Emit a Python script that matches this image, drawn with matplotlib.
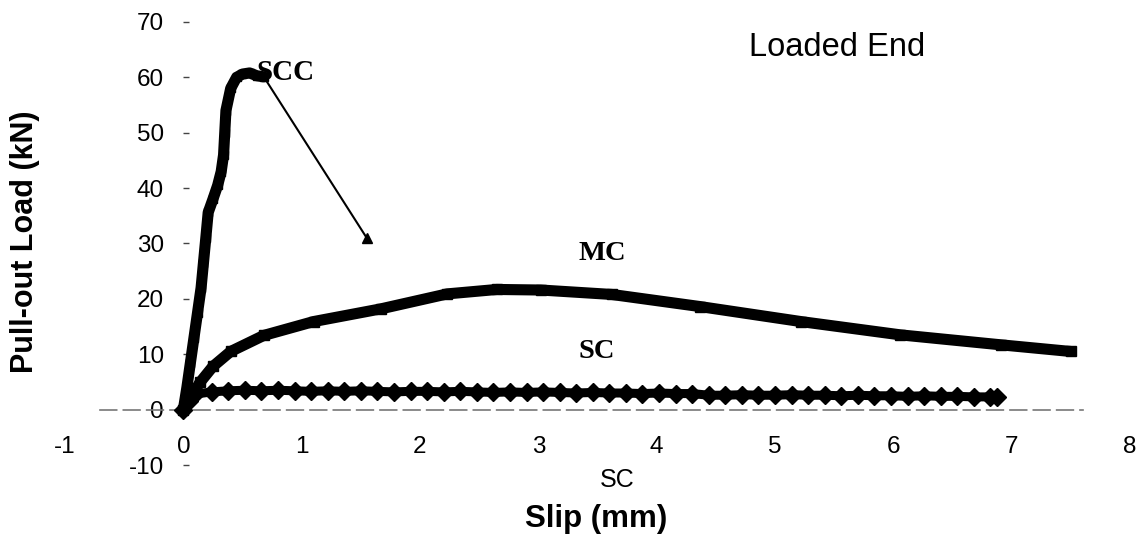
#!/usr/bin/env python3
"""Pull-out load vs slip at the loaded end (SCC, MC, SC bars)."""

import matplotlib
matplotlib.use("Agg")
import matplotlib.pyplot as plt

# SCC: steep rise, peak near 60 kN, then one straight drop to the last point
SCC_X = [0.00, 0.03, 0.06, 0.09, 0.12, 0.15, 0.17, 0.19, 0.21, 0.25, 0.29,
         0.32, 0.34, 0.35, 0.36, 0.40, 0.45, 0.50, 0.56, 0.62, 0.68]
SCC_Y = [0.0, 4.0, 8.5, 13.0, 17.5, 22.0, 26.5, 31.0, 35.6, 38.0, 40.5,
         43.0, 46.0, 50.0, 54.0, 58.0, 60.0, 60.6, 60.8, 60.3, 60.1]
SCC_DROP_X = [0.68, 1.55]
SCC_DROP_Y = [60.1, 31.0]

# MC
MC_X = [0.00, 0.14, 0.25, 0.40, 0.68, 1.10, 1.67, 2.23, 2.65, 3.02, 3.62,
        4.37, 5.22, 6.06, 6.91, 7.50]
MC_Y = [0.0, 4.9, 7.8, 10.5, 13.4, 15.9, 18.2, 20.9, 21.7, 21.6, 20.8,
        18.6, 15.9, 13.5, 11.7, 10.5]

# SC
SC_X = [0.00, 0.05, 0.10, 0.24, 0.38, 0.52, 0.66, 0.80, 0.94, 1.08, 1.22,
        1.36, 1.50, 1.64, 1.78, 1.92, 2.06, 2.20, 2.34, 2.48, 2.62, 2.76,
        2.90, 3.04, 3.18, 3.32, 3.46, 3.60, 3.74, 3.88, 4.02, 4.16, 4.30,
        4.44, 4.58, 4.72, 4.86, 5.00, 5.14, 5.28, 5.42, 5.56, 5.70, 5.84,
        5.98, 6.12, 6.26, 6.40, 6.54, 6.68, 6.82, 6.88]
SC_Y = [0.0, 1.5, 2.8, 3.2, 3.4, 3.5, 3.4, 3.5, 3.4, 3.3, 3.4,
        3.3, 3.4, 3.3, 3.2, 3.3, 3.3, 3.2, 3.3, 3.2, 3.1, 3.2,
        3.1, 3.2, 3.1, 3.0, 3.1, 3.0, 3.0, 2.9, 3.0, 2.9, 2.9,
        2.6, 2.6, 2.7, 2.6, 2.6, 2.7, 2.6, 2.6, 2.5, 2.6, 2.5,
        2.5, 2.4, 2.5, 2.4, 2.4, 2.3, 2.3, 2.2]

X_TICKS = [-1, 0, 1, 2, 3, 4, 5, 6, 7, 8]
Y_TICKS = [-10, 0, 10, 20, 30, 40, 50, 60, 70]

SANS = "Liberation Sans"
SERIF = "Liberation Serif"

W, H = 1137, 539


def fx(px):
    return px / W


def fy(py):
    return 1 - py / H


fig = plt.figure(figsize=(W / 100, H / 100), dpi=100)
ax = fig.add_axes([fx(65), fy(465), (1130 - 65) / W, (465 - 22) / H])
ax.set_xlim(-1, 8)
ax.set_ylim(-10, 70)

# curves
ax.plot(SCC_X, SCC_Y, color="black", lw=8, marker="s", ms=6,
        solid_capstyle="round", solid_joinstyle="round", zorder=3)
ax.plot(SCC_DROP_X, SCC_DROP_Y, color="black", lw=1.5, zorder=3)
ax.plot(SCC_DROP_X[-1:], SCC_DROP_Y[-1:], color="black", marker="^",
        ms=7, ls="none", zorder=3)
ax.plot(MC_X, MC_Y, color="black", lw=8, marker="s", ms=7,
        solid_capstyle="butt", solid_joinstyle="round", zorder=3)
ax.plot(SC_X, SC_Y, color="black", lw=6.5, marker="D", ms=9.5, zorder=3)

# axes look (excel-like: axis crosses at zero)
for side in ("top", "right"):
    ax.spines[side].set_visible(False)
ax.spines["left"].set_position(("data", 0))
ax.spines["left"].set_visible(False)
ax.spines["bottom"].set_position(("data", 0))
ax.spines["bottom"].set_bounds(-0.7, 7.6)
ax.spines["bottom"].set_color("#777777")
ax.spines["bottom"].set_linestyle((0, (10, 4)))
ax.spines["bottom"].set_linewidth(1.2)

ax.set_xticks(X_TICKS)
ax.set_xticklabels([str(v) for v in X_TICKS], fontfamily=SANS, fontsize=17.5)
ax.set_yticks(Y_TICKS)
ax.set_yticklabels([str(v) for v in Y_TICKS], fontfamily=SANS, fontsize=17.5)
ax.tick_params(axis="x", length=0, pad=19)
ax.tick_params(axis="y", direction="in", length=4, width=1,
               color="#444444", pad=14)

# labels and annotations
fig.text(fx(25), fy(242), "Pull-out Load (kN)", rotation=90,
         ha="center", va="center", fontfamily=SANS, fontweight="bold",
         fontsize=22)
fig.text(fx(596), fy(519), "Slip (mm)", ha="center", va="center",
         fontfamily=SANS, fontweight="bold", fontsize=22.5)
fig.text(fx(617), fy(480), "SC", ha="center", va="center",
         fontfamily=SANS, fontsize=18)
fig.text(fx(837), fy(48), "Loaded End", ha="center", va="center",
         fontfamily=SANS, fontsize=23.5)
fig.text(fx(286), fy(72), "SCC", ha="center", va="center",
         fontfamily=SERIF, fontweight="bold", fontsize=21)
fig.text(fx(602), fy(254), "MC", ha="center", va="center",
         fontfamily=SERIF, fontweight="bold", fontsize=20.5)
fig.text(fx(597), fy(351), "SC", ha="center", va="center",
         fontfamily=SERIF, fontweight="bold", fontsize=20.5)

fig.savefig("out.png", dpi=100)
